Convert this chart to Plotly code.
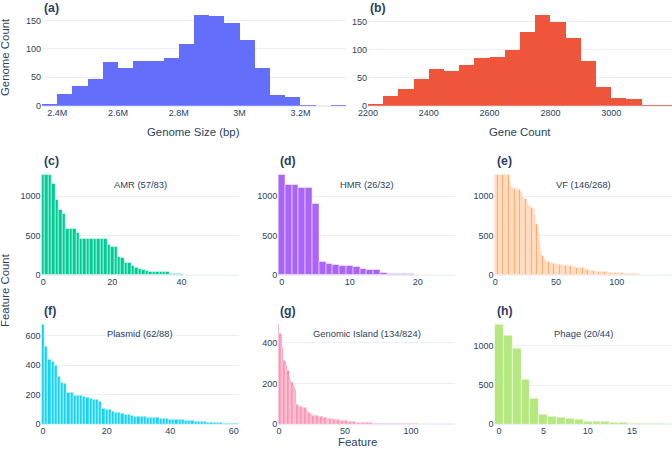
import plotly.graph_objects as go

W, H = 672, 455

# ---------------- data ----------------
# (a) genome size histogram (bins of 50 kb starting at 2.35 Mb)
genome_size_bin_start = 2.35e6
genome_size_bin_size = 5e4
genome_size_counts = [2, 20, 34, 47, 76, 66, 78, 79, 83, 108, 160, 157, 146, 116, 67, 19, 16, 1, 0, 1]

# (b) gene count histogram (bins of 50 genes starting at 2200)
gene_count_bin_start = 2200
gene_count_bin_size = 50
gene_count_counts = [3, 18, 29, 47, 65, 61, 73, 85, 86, 100, 132, 162, 149, 120, 80, 33, 13, 11, 1, 1]

# (c)-(h) features ranked by number of genomes carrying them
amr_counts = [1270, 1270, 1268, 1160, 958, 823, 772, 585, 585, 585, 540, 465, 465, 465, 465, 465,
              465, 465, 458, 380, 362, 362, 232, 224, 160, 156, 114, 93, 76, 63, 51, 46, 46, 45,
              44, 44, 43, 21, 14, 13, 12, 9, 8, 8, 7, 6, 5, 5, 4, 4, 3, 3, 2, 2, 2, 1, 1]
hmr_counts = [1270, 1145, 1143, 1114, 1112, 911, 165, 143, 131, 114, 112, 105, 80, 63, 62, 30,
              17, 16, 13, 12, 10, 6, 4, 3, 2, 2]
vf_counts = [1270, 1270, 1270, 1270, 1270, 1270, 1270, 1270, 1270, 1270, 1270, 1270,
             1190, 1120, 1120, 1110, 1100, 1100, 1095, 1090, 1085, 1060, 1040, 1000, 970, 965,
             960, 900, 880, 875, 860, 850, 840, 760, 650, 620, 520, 420, 300, 250,
             220, 200, 185, 175, 165, 160, 155, 150, 148, 145,
             145, 140, 136, 132, 130, 128, 125, 122, 120, 118,
             116, 114, 112, 108, 105, 102, 100, 98, 96, 94,
             92, 90, 88, 85, 82, 78, 70, 62, 58, 55,
             52, 50, 48, 46, 45, 44, 42, 41, 40, 39,
             38, 37, 36, 35, 34, 33, 32, 31, 30, 30,
             29, 28, 27, 26, 25, 24, 22, 20, 19, 18,
             17, 16, 15, 14, 13, 13, 12, 12, 11, 10,
             10, 9, 9, 8, 8, 7, 7, 6, 6, 5,
             5, 5, 4, 4, 4, 3, 3, 3, 3, 2,
             2, 2, 2, 1, 1, 1]
plasmid_counts = [674, 526, 440, 427, 398, 324, 283, 274, 218, 213, 195, 195, 193, 189, 184, 173,
                  168, 166, 155, 106, 103, 99, 90, 83, 81, 70, 67, 63, 61, 56, 54, 53, 52, 49,
                  47, 45, 43, 38, 37, 36, 35, 34, 33, 31, 30, 27, 26, 25, 20, 19, 18, 16, 15,
                  14, 11, 10, 9, 7, 6, 5, 4, 3]
gi_counts = [487, 444, 439, 376, 310, 307, 286, 261, 232, 216, 204, 188, 180, 171, 95, 90, 85,
             85, 84, 84, 82, 73, 62, 57, 52, 49, 44, 44, 43, 41, 40, 39, 37, 36, 35, 33, 32, 30,
             29, 28, 27, 26, 25, 24, 23, 22, 21, 20, 19, 19, 18, 17, 16, 15, 14, 13, 12, 12, 11,
             11, 10, 9, 9, 9, 8, 8, 8, 7, 7, 7, 7, 6, 6, 6, 6, 5, 5, 5, 5, 5, 4,
             4, 4, 4, 4, 4, 3, 3, 3, 3, 3, 3, 3, 3, 2, 2, 2, 2, 2, 2, 2,
             2, 2, 2, 2, 2, 1, 1, 1, 1, 1, 1, 1, 1, 1, 1, 1, 1, 1, 1, 1,
             1, 1, 1, 1, 1, 1, 1, 1, 1, 1, 1, 1, 1]
phage_counts = [1270, 1135, 966, 572, 330, 131, 97, 89, 68, 64, 42, 38, 30, 25, 17, 13, 8, 6, 4, 3]

feature_labels = ["AMR (57/83)", "HMR (26/32)", "VF (146/268)",
                  "Plasmid (62/88)", "Genomic Island (134/824)", "Phage (20/44)"]
feature_series = [amr_counts, hmr_counts, vf_counts, plasmid_counts, gi_counts, phage_counts]
panel_tags = ["(a)", "(b)", "(c)", "(d)", "(e)", "(f)", "(g)", "(h)"]
colors = ["#636EFA", "#EF553B", "#00CC96", "#AB63FA", "#FFA15A", "#19D3F3", "#FF6692", "#B6E880"]

# ---------------- layout geometry (pixels -> paper) ----------------
def px_x(a, b):
    return [a / W, min(b / W, 1.0)]

def px_y(top, bottom):
    return [1 - bottom / H, 1 - top / H]

def sfx(n):
    return "" if n == 1 else str(n)

row_y = [px_y(10.1, 105.7), px_y(169.7, 275.0), px_y(319.5, 424.3)]
top_x = [px_x(42, 346), px_x(368, 672)]
col_x = [px_x(41.5, 238.5), px_x(278.3, 455.2), px_x(494.6, 672)]

FAMILY = "Liberation Sans, Arial, sans-serif"
INK = "#2a3f5f"
TICK = dict(size=9, color=INK, family=FAMILY)
fig = go.Figure()

# top histograms
hist_specs = [
    (genome_size_bin_start, genome_size_bin_size, genome_size_counts, "Genome Size (bp)", 2e5, 50),
    (gene_count_bin_start, gene_count_bin_size, gene_count_counts, "Gene Count", 200, 50),
]
layout_axes = {}
annotations = []
for i, (start, size, counts, xtitle, xdt, ydt) in enumerate(hist_specs):
    n = i + 1
    s = sfx(n)
    centers = [start + size * (k + 0.5) for k in range(len(counts))]
    fig.add_trace(go.Histogram(
        x=centers, y=counts, histfunc="sum",
        xbins=dict(start=start, end=start + size * len(counts), size=size),
        marker_color=colors[i], xaxis=f"x{s}", yaxis=f"y{s}", showlegend=False))
    layout_axes[f"xaxis{s}"] = dict(domain=top_x[i], anchor=f"y{s}",
                                    range=[start, start + size * len(counts)],
                                    dtick=xdt, showgrid=False, zeroline=False,
                                    tickfont=TICK, automargin=False)
    layout_axes[f"yaxis{s}"] = dict(domain=row_y[0], anchor=f"x{s}", dtick=ydt,
                                    tickfont=TICK, automargin=False)
    dom = top_x[i]
    annotations.append(dict(text=xtitle, xref="paper", yref="paper",
                            x=(dom[0] + dom[1]) / 2, y=1 - 131.7 / H,
                            xanchor="center", yanchor="middle", showarrow=False,
                            font=dict(size=11.4, color=INK, family=FAMILY)))

# feature panels
x_dticks = [20, 10, 50, 20, 50, 5]
y_dticks = [500, 500, 500, 200, 200, 500]
for j, vals in enumerate(feature_series):
    n = j + 3
    r = 1 + j // 3
    c = j % 3
    fig.add_trace(go.Bar(x=list(range(len(vals))), y=vals, marker_color=colors[n - 1],
                         xaxis=f"x{n}", yaxis=f"y{n}", showlegend=False))
    layout_axes[f"xaxis{n}"] = dict(domain=col_x[c], anchor=f"y{n}", dtick=x_dticks[j],
                                    showgrid=False, zeroline=False, tickfont=TICK,
                                    automargin=False)
    layout_axes[f"yaxis{n}"] = dict(domain=row_y[r], anchor=f"x{n}", dtick=y_dticks[j],
                                    tickfont=TICK, automargin=False)
    annotations.append(dict(text=feature_labels[j], xref=f"x{n} domain", yref=f"y{n} domain",
                            x=0.5, y=0.862, xanchor="center", yanchor="middle",
                            showarrow=False, font=dict(size=9.4, color=INK, family=FAMILY)))

# panel tags
for k, tag in enumerate(panel_tags):
    s = sfx(k + 1)
    annotations.append(dict(text=f"<b>{tag}</b>", xref=f"x{s} domain", yref=f"y{s} domain",
                            x=0, y=1, xanchor="left", yanchor="bottom", showarrow=False,
                            yshift=-7 if k < 2 else 0,
                            font=dict(size=12.3, color=INK, family=FAMILY)))

# shared titles
annotations += [
    dict(text="Genome Count", xref="paper", yref="paper", x=5 / W, y=1 - 57 / H,
         textangle=-90, showarrow=False, xanchor="center", yanchor="middle",
         font=dict(size=11.4, color=INK, family=FAMILY)),
    dict(text="Feature Count", xref="paper", yref="paper", x=5 / W, y=1 - 290 / H,
         textangle=-90, showarrow=False, xanchor="center", yanchor="middle",
         font=dict(size=11.4, color=INK, family=FAMILY)),
    dict(text="Feature", xref="paper", yref="paper", x=357 / W, y=1 - 442 / H,
         showarrow=False, xanchor="center", yanchor="middle",
         font=dict(size=11.4, color=INK, family=FAMILY)),
]

fig.update_layout(
    template="plotly_white",
    width=W, height=H,
    margin=dict(l=0, r=0, t=0, b=0),
    bargap=0,
    showlegend=False,
    font=dict(family=FAMILY, color=INK),
    annotations=annotations,
    **layout_axes,
)

fig.write_html("out.html", config={"displayModeBar": False},
               post_script="document.body.style.margin='0';")
